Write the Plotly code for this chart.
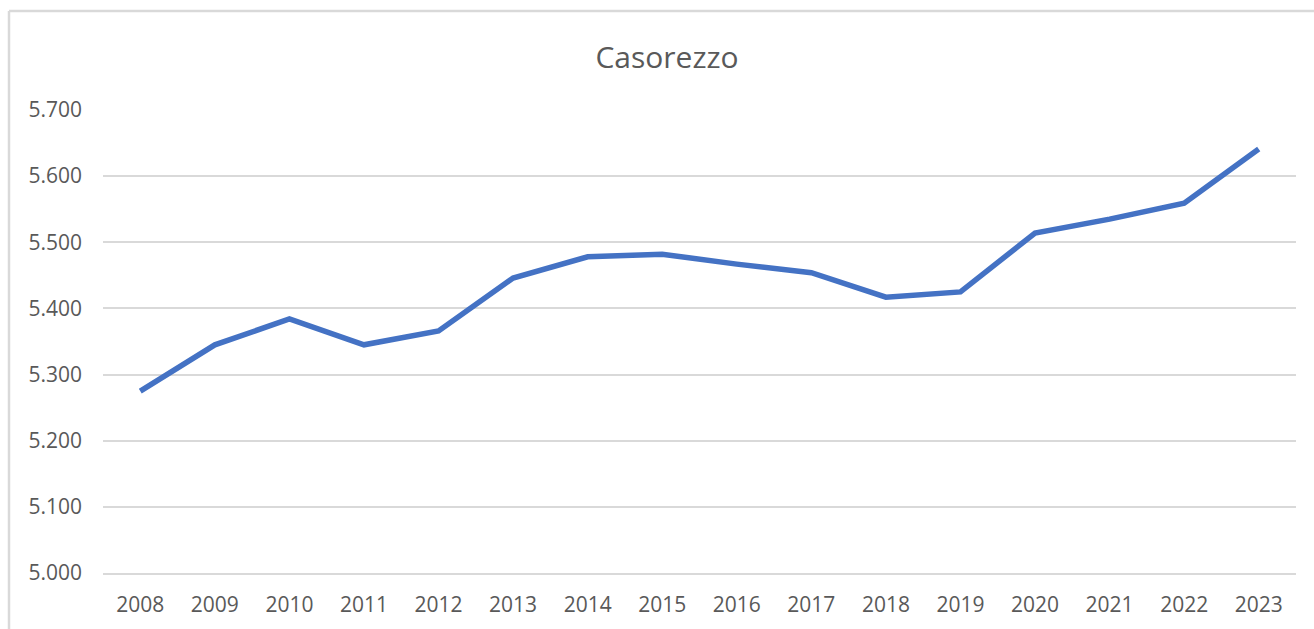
import plotly.graph_objects as go

# Resident population of Casorezzo by year
years = ["2008", "2009", "2010", "2011", "2012", "2013", "2014", "2015",
         "2016", "2017", "2018", "2019", "2020", "2021", "2022", "2023"]
population = [5275, 5345, 5384, 5345, 5366, 5446, 5478, 5482,
              5467, 5454, 5417, 5425, 5514, 5535, 5559, 5641]

y_ticks = [5000, 5100, 5200, 5300, 5400, 5500, 5600, 5700]
y_tick_labels = ["5.000", "5.100", "5.200", "5.300", "5.400", "5.500", "5.600", "5.700"]

text_color = "#595959"
grid_color = "#d9d9d9"
font_family = "Open Sans, Noto Sans, sans-serif"

fig = go.Figure(
    go.Scatter(
        x=years,
        y=population,
        mode="lines",
        line=dict(color="#4472C4", width=5.5),
        hoverinfo="x+y",
    )
)

fig.update_layout(
    width=1314,
    height=629,
    margin=dict(l=103, r=18, t=110, b=56),
    paper_bgcolor="white",
    plot_bgcolor="white",
    showlegend=False,
    font=dict(family=font_family, color=text_color),
    title=dict(
        text="Casorezzo",
        xref="container",
        x=667 / 1314,
        xanchor="center",
        y=1 - 57 / 629,
        yanchor="middle",
        font=dict(size=30, color=text_color, family=font_family),
    ),
    xaxis=dict(
        type="category",
        showgrid=False,
        showline=True,
        linecolor=grid_color,
        linewidth=1.5,
        ticks="",
        tickfont=dict(size=21, color=text_color),
        ticklabelstandoff=12,
        range=[-0.5, len(years) - 0.5],
    ),
    yaxis=dict(
        range=[5000, 5700],
        tickvals=y_ticks,
        ticktext=y_tick_labels,
        showgrid=True,
        gridcolor=grid_color,
        gridwidth=1.5,
        zeroline=False,
        showline=False,
        ticks="",
        tickfont=dict(size=21, color=text_color),
        ticklabelstandoff=20,
    ),
    shapes=[
        # chart-area frame (top and left edges)
        dict(type="line", xref="paper", yref="paper",
             x0=(9 - 103) / 1193, x1=1.2, y0=(573 - 11) / 463, y1=(573 - 11) / 463,
             line=dict(color=grid_color, width=2.5)),
        dict(type="line", xref="paper", yref="paper",
             x0=(9 - 103) / 1193, x1=(9 - 103) / 1193, y0=(573 - 11) / 463, y1=-0.3,
             line=dict(color=grid_color, width=2.5)),
    ],
)

fig.write_html("out.html")
